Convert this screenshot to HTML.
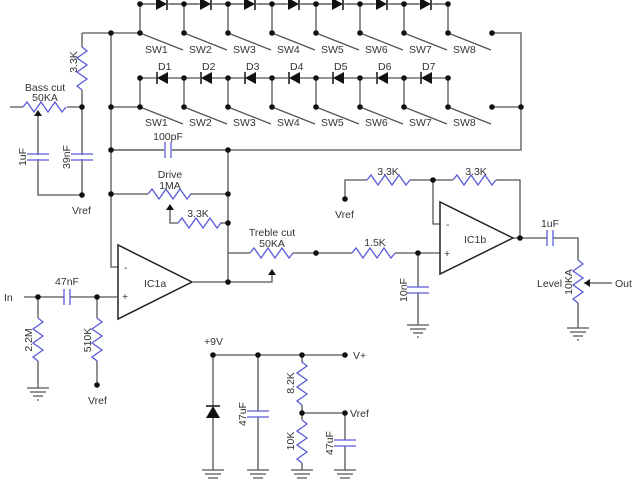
<!DOCTYPE html>
<html><head><meta charset="utf-8"><style>
html,body{margin:0;padding:0;background:#fff;}
svg{display:block;}
text{font-family:"Liberation Sans",sans-serif;font-size:10.5px;fill:#333;}
.w{stroke:#555;stroke-width:1.3;fill:none;}
.r{stroke:#5a5ad8;stroke-width:1.3;fill:none;}
.d{fill:#111;}
</style></head><body>
<svg width="640" height="480" viewBox="0 0 640 480" xmlns="http://www.w3.org/2000/svg">
<defs>
<path id="rh" d="M0 0 l4 -5 l7 10 l7 -10 l7 10 l7 -10 l7 10 l4 -5" class="r"/>
<path id="rv" d="M0 0 l5 4 l-10 7 l10 7 l-10 7 l10 7 l-10 7 l5 4" class="r"/>
<path id="gnd" d="M-11 0 h22 M-8 4 h16 M-5 8 h10 M-1 12 h2" class="w"/>
<g id="dr"><polygon points="-6,-6 -6,6 5,0" class="d"/><line x1="5" y1="-6" x2="5" y2="6" stroke="#111" stroke-width="1.5"/></g>
<g id="dl"><polygon points="6,-6 6,6 -5,0" class="d"/><line x1="-5" y1="-6" x2="-5" y2="6" stroke="#111" stroke-width="1.5"/></g>
<path id="ch" d="M-3 -8 v16 M3 -8 v16" class="r"/>
<path id="cv" d="M-11 -3 h22 M-11 3 h22" class="r"/>
</defs>

<!-- top diode row -->
<path class="w" d="M140 4 H448"/>
<g class="w">
<path d="M140 4 V33 M184 4 V33 M228 4 V33 M272 4 V33 M316 4 V33 M360 4 V33 M404 4 V33 M448 4 V33"/>
<path d="M140 33 L183 50 M184 33 L227 50 M228 33 L271 50 M272 33 L315 50 M316 33 L359 50 M360 33 L403 50 M404 33 L447 50 M448 33 L491 50"/>
<path d="M82 33 H140 M492 33 H521 V150 H111"/>
</g>
<rect x="130" y="0" width="320" height="0" fill="none"/>
<g fill="#fff"><rect x="154" y="-2" width="16" height="12"/><rect x="198" y="-2" width="16" height="12"/><rect x="242" y="-2" width="16" height="12"/><rect x="286" y="-2" width="16" height="12"/><rect x="330" y="-2" width="16" height="12"/><rect x="374" y="-2" width="16" height="12"/><rect x="418" y="-2" width="16" height="12"/></g>
<use href="#dr" x="162" y="4"/><use href="#dr" x="206" y="4"/><use href="#dr" x="250" y="4"/><use href="#dr" x="294" y="4"/><use href="#dr" x="338" y="4"/><use href="#dr" x="382" y="4"/><use href="#dr" x="426" y="4"/>
<path class="w" d="M140 4 H156 M168 4 H200 M212 4 H244 M256 4 H288 M300 4 H332 M344 4 H376 M388 4 H420 M432 4 H448"/>

<!-- second diode row -->
<g class="w">
<path d="M140 78 H156 M168 78 H200 M212 78 H244 M256 78 H288 M300 78 H332 M344 78 H376 M388 78 H420 M432 78 H448"/>
<path d="M140 78 V107 M184 78 V107 M228 78 V107 M272 78 V107 M316 78 V107 M360 78 V107 M404 78 V107 M448 78 V107"/>
<path d="M140 107 L183 124 M184 107 L227 124 M228 107 L271 124 M272 107 L315 124 M316 107 L359 124 M360 107 L403 124 M404 107 L447 124 M448 107 L491 124"/>
<path d="M111 107 H140 M492 107 H521"/>
</g>
<use href="#dl" x="162" y="78"/><use href="#dl" x="206" y="78"/><use href="#dl" x="250" y="78"/><use href="#dl" x="294" y="78"/><use href="#dl" x="338" y="78"/><use href="#dl" x="382" y="78"/><use href="#dl" x="426" y="78"/>

<g>
<text x="145" y="53">SW1</text><text x="189" y="53">SW2</text><text x="233" y="53">SW3</text><text x="277" y="53">SW4</text><text x="321" y="53">SW5</text><text x="365" y="53">SW6</text><text x="409" y="53">SW7</text><text x="453" y="53">SW8</text>
<text x="145" y="126">SW1</text><text x="189" y="126">SW2</text><text x="233" y="126">SW3</text><text x="277" y="126">SW4</text><text x="321" y="126">SW5</text><text x="365" y="126">SW6</text><text x="409" y="126">SW7</text><text x="453" y="126">SW8</text>
<text x="158" y="70">D1</text><text x="202" y="70">D2</text><text x="246" y="70">D3</text><text x="290" y="70">D4</text><text x="334" y="70">D5</text><text x="378" y="70">D6</text><text x="422" y="70">D7</text>
</g>

<!-- left bass section -->
<g class="w">
<path d="M82 33 V47 M82 90 V195 M10 107 H23 M67 107 H82 M38 115 V195 H82"/>
<path d="M111 33 V267 H118"/>
</g>
<use href="#rv" x="82" y="47"/>
<use href="#rh" x="23" y="107"/>
<polygon points="38,110 34,116 42,116" class="d"/>
<g class="w"><path d="M27 157 h0"/></g>
<rect x="26" y="155" width="24" height="4" fill="#fff"/><rect x="70" y="155" width="24" height="4" fill="#fff"/>
<use href="#cv" x="38" y="157"/><use href="#cv" x="82" y="157"/>
<text x="45" y="91" text-anchor="middle">Bass cut</text>
<text x="45" y="101" text-anchor="middle">50KA</text>
<text transform="translate(77,62) rotate(-90)" text-anchor="middle">3.3K</text>
<text transform="translate(26,157) rotate(-90)" text-anchor="middle">1uF</text>
<text transform="translate(70,157) rotate(-90)" text-anchor="middle">39nF</text>
<text x="72" y="214">Vref</text>

<!-- feedback -->
<g class="w">
<path d="M111 150 H165 M171 150 H228 M228 150 V283 M111 194 H148 M190 194 H228 M170 209 V223 H178 M220 223 H228"/>
</g>
<rect x="164" y="148" width="8" height="4" fill="#fff"/>
<use href="#ch" x="168" y="150"/>
<use href="#rh" x="148" y="194"/>
<use href="#rh" x="178" y="223"/>
<polygon points="170,204 166,210 174,210" class="d"/>
<text x="168" y="140" text-anchor="middle">100pF</text>
<text x="170" y="178" text-anchor="middle">Drive</text>
<text x="170" y="189" text-anchor="middle">1MA</text>
<text x="198" y="217" text-anchor="middle">3.3K</text>

<!-- IC1a -->
<polygon points="118,245 118,319 192,282" fill="#fff" stroke="#222" stroke-width="1.5"/>
<text x="124" y="271">-</text><text x="122" y="300">+</text>
<text x="144" y="287">IC1a</text>
<g class="w"><path d="M192 282 H272 V275 M228 253 H250 M293 253 H352 M395 253 H440"/></g>
<polygon points="272,269 268,275 276,275" class="d"/>
<use href="#rh" x="250" y="253"/>
<use href="#rh" x="352" y="253"/>
<text x="272" y="236" text-anchor="middle">Treble cut</text>
<text x="272" y="247" text-anchor="middle">50KA</text>
<text x="375" y="246" text-anchor="middle">1.5K</text>

<!-- input -->
<text x="4" y="301">In</text>
<g class="w"><path d="M24 297 H64 M70 297 H118 M38 297 V318 M38 361 V388 M97 297 V318 M97 361 V385"/></g>
<use href="#ch" x="67" y="297"/>
<use href="#rv" x="38" y="318"/><use href="#rv" x="97" y="318"/>
<use href="#gnd" x="38" y="388"/>
<text x="67" y="285" text-anchor="middle">47nF</text>
<text transform="translate(32,340) rotate(-90)" text-anchor="middle">2.2M</text>
<text transform="translate(91,340) rotate(-90)" text-anchor="middle">510K</text>
<text x="88" y="404">Vref</text>

<!-- IC1b -->
<g class="w"><path d="M345 199 V180 H367 M410 180 H453 M496 180 H520 V238 M433 180 V224 H440 M418 253 V287 M418 293 V325 M513 238 H547 M553 238 H578 V260 M578 303 V328 M584 283 H612"/></g>
<polygon points="440,202 440,274 513,238" fill="#fff" stroke="#222" stroke-width="1.5"/>
<text x="446" y="228">-</text><text x="444" y="257">+</text>
<text x="464" y="243">IC1b</text>
<use href="#rh" x="367" y="180"/><use href="#rh" x="453" y="180"/>
<use href="#cv" x="418" y="290"/>
<use href="#ch" x="550" y="238"/>
<use href="#rv" x="578" y="260"/>
<polygon points="584,283 590,279 590,287" class="d"/>
<use href="#gnd" x="418" y="325"/><use href="#gnd" x="578" y="328"/>
<text x="388" y="175" text-anchor="middle">3.3K</text>
<text x="476" y="175" text-anchor="middle">3.3K</text>
<text x="335" y="218">Vref</text>
<text transform="translate(407,290) rotate(-90)" text-anchor="middle">10nF</text>
<text x="550" y="227" text-anchor="middle">1uF</text>
<text x="537" y="287">Level</text>
<text transform="translate(572,282) rotate(-90)" text-anchor="middle">10KA</text>
<text x="615" y="287">Out</text>

<!-- power -->
<text x="204" y="345">+9V</text>
<g class="w"><path d="M213 355 H345 M213 355 V405 M213 418 V470 M258 355 V411 M258 417 V470 M302 355 V362 M302 405 V420 M302 463 V470 M302 413 H345 V440 M345 446 V470"/></g>
<g transform="translate(213,412)"><polygon points="-7,6 7,6 0,-6" class="d"/><line x1="-7" y1="-6" x2="7" y2="-6" stroke="#111" stroke-width="1.5"/></g>
<use href="#cv" x="258" y="414"/>
<use href="#rv" x="302" y="362"/><use href="#rv" x="302" y="420"/>
<use href="#cv" x="345" y="443"/>
<use href="#gnd" x="213" y="470"/><use href="#gnd" x="258" y="470"/><use href="#gnd" x="302" y="470"/><use href="#gnd" x="345" y="470"/>
<text x="353" y="359">V+</text>
<text x="350" y="417">Vref</text>
<text transform="translate(246,414) rotate(-90)" text-anchor="middle">47uF</text>
<text transform="translate(294,383) rotate(-90)" text-anchor="middle">8.2K</text>
<text transform="translate(294,441) rotate(-90)" text-anchor="middle">10K</text>
<text transform="translate(333,443) rotate(-90)" text-anchor="middle">47uF</text>

<!-- dots -->
<g class="d">
<circle cx="140" cy="4" r="2.8"/><circle cx="184" cy="4" r="2.8"/><circle cx="228" cy="4" r="2.8"/><circle cx="272" cy="4" r="2.8"/><circle cx="316" cy="4" r="2.8"/><circle cx="360" cy="4" r="2.8"/><circle cx="404" cy="4" r="2.8"/><circle cx="448" cy="4" r="2.8"/>
<circle cx="140" cy="33" r="2.8"/><circle cx="184" cy="33" r="2.8"/><circle cx="228" cy="33" r="2.8"/><circle cx="272" cy="33" r="2.8"/><circle cx="316" cy="33" r="2.8"/><circle cx="360" cy="33" r="2.8"/><circle cx="404" cy="33" r="2.8"/><circle cx="448" cy="33" r="2.8"/><circle cx="492" cy="33" r="2.8"/>
<circle cx="140" cy="78" r="2.8"/><circle cx="184" cy="78" r="2.8"/><circle cx="228" cy="78" r="2.8"/><circle cx="272" cy="78" r="2.8"/><circle cx="316" cy="78" r="2.8"/><circle cx="360" cy="78" r="2.8"/><circle cx="404" cy="78" r="2.8"/><circle cx="448" cy="78" r="2.8"/>
<circle cx="140" cy="107" r="2.8"/><circle cx="184" cy="107" r="2.8"/><circle cx="228" cy="107" r="2.8"/><circle cx="272" cy="107" r="2.8"/><circle cx="316" cy="107" r="2.8"/><circle cx="360" cy="107" r="2.8"/><circle cx="404" cy="107" r="2.8"/><circle cx="448" cy="107" r="2.8"/><circle cx="492" cy="107" r="2.8"/><circle cx="521" cy="107" r="2.8"/>
<circle cx="111" cy="33" r="2.8"/><circle cx="111" cy="107" r="2.8"/><circle cx="82" cy="107" r="2.8"/><circle cx="111" cy="150" r="2.8"/><circle cx="111" cy="194" r="2.8"/><circle cx="82" cy="195" r="2.8"/>
<circle cx="228" cy="150" r="2.8"/><circle cx="228" cy="194" r="2.8"/><circle cx="228" cy="223" r="2.8"/><circle cx="228" cy="282" r="2.8"/><circle cx="316" cy="253" r="2.8"/><circle cx="418" cy="253" r="2.8"/>
<circle cx="345" cy="199" r="2.8"/><circle cx="433" cy="180" r="2.8"/><circle cx="520" cy="238" r="2.8"/>
<circle cx="38" cy="297" r="2.8"/><circle cx="97" cy="297" r="2.8"/><circle cx="97" cy="385" r="2.8"/>
<circle cx="213" cy="355" r="2.8"/><circle cx="258" cy="355" r="2.8"/><circle cx="302" cy="355" r="2.8"/><circle cx="345" cy="355" r="2.8"/><circle cx="302" cy="413" r="2.8"/><circle cx="345" cy="413" r="2.8"/>
</g>
</svg>
</body></html>
